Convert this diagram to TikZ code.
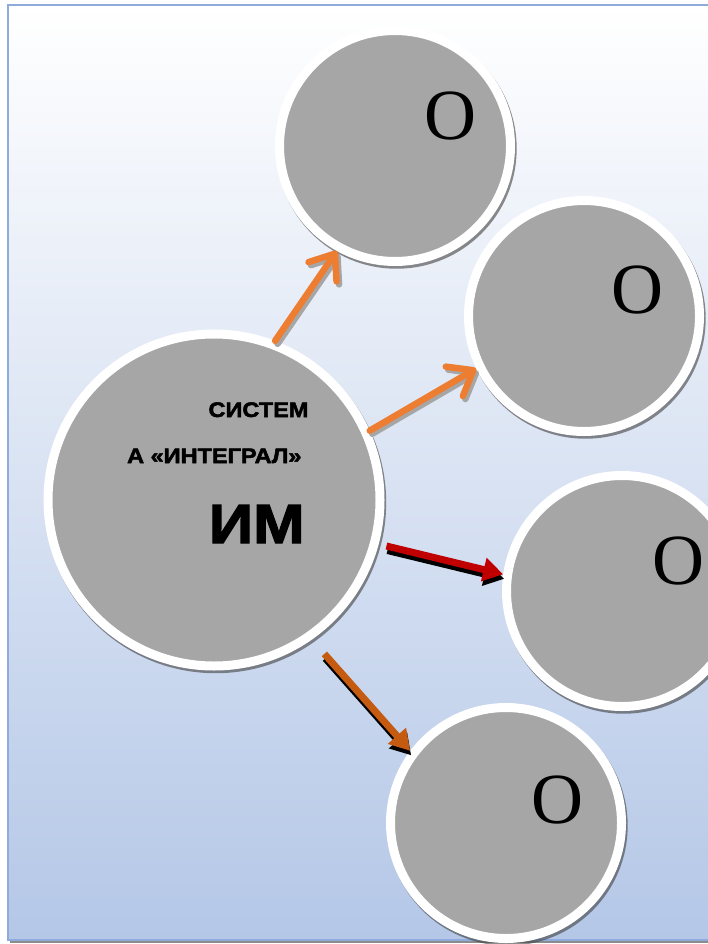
\documentclass[tikz,border=0pt]{standalone}
\usepackage{fontspec}
\setmainfont{Liberation Serif}
\newfontfamily\labelfont{Liberation Sans}[BoldFeatures={FakeBold=2.5,FakeStretch=1.12}]
\usetikzlibrary{arrows.meta,shadows}
\definecolor{bgblue}{HTML}{B4C7E7}
\definecolor{framecol}{HTML}{8FAADC}
\definecolor{blobgray}{HTML}{A6A6A6}
\definecolor{arrorange}{HTML}{ED7D31}
\definecolor{arrred}{HTML}{C00000}
\definecolor{arrbrown}{HTML}{C55A11}
\tikzset{
    every node/.style={font=\labelfont\bfseries},
    small node/.style={circle,draw=white,fill=blobgray,line width=9pt,minimum size=231pt,
        drop shadow={shadow scale=1.04,shadow xshift=1.5pt,shadow yshift=-2.5pt,fill=black!75,opacity=0.6}},
    main node/.style={circle,draw=white,fill=blobgray,line width=9pt,minimum size=332pt,
        drop shadow={shadow scale=1.028,shadow xshift=1.5pt,shadow yshift=-2.5pt,fill=black!75,opacity=0.6}},
    o node/.style={font=\rmfamily\fontsize{72}{72}\selectfont},
    open arrow/.style={-{Straight Barb[length=22pt,width=34pt,round]},line width=6.5pt,line cap=round},
    full arrow/.style={-{Triangle[length=20pt,width=23pt]},line width=7pt},
    grey shade/.style={black!35,transform canvas={shift={(2.5pt,-3pt)}}},
    black shade/.style={black,transform canvas={shift={(1pt,-4.5pt)}}}
}

\begin{document}
\begin{tikzpicture}[x=1pt,y=-1pt]
    \useasboundingbox (0,0) rectangle (707,944);

    % background sheet
    \fill[black!45] (10,940) rectangle (760,943);
    \shade[top color=white,bottom color=bgblue] (8,5) rectangle (760,940);
    \draw[framecol,line width=2.5pt] (760,5) -- (8,5) -- (8,940) -- (760,940);

    % circles
    \node[main node] (main) at (214,500) {};
    \node[small node] (c1) at (395,146) {};
    \node[small node] (c2) at (584,316) {};
    \node[small node] (c3) at (622,591) {};
    \node[small node] (c4) at (506,823) {};

    % texts
    \node[anchor=base east,font=\labelfont\bfseries\fontsize{21}{21}\selectfont] (t1) at (312,417) {СИСТЕМ};
    \node[anchor=base east,font=\labelfont\bfseries\fontsize{21}{21}\selectfont] (t2) at (305,463) {А «ИНТЕГРАЛ»};
    \node[anchor=base east,font=\labelfont\bfseries\fontsize{55}{55}\selectfont] (t3) at (308,543) {ИМ};
    \node[o node] (o1) at (450,116) {O};
    \node[o node] (o2) at (637,290) {O};
    \node[o node] (o3) at (678,561) {O};
    \node[o node] (o4) at (557,800) {O};

    % arrows
    \draw[open arrow,grey shade] (main.69) -- (c1.241);
    \draw[open arrow,arrorange] (main.69) -- (c1.241);
    \draw[open arrow,grey shade] (main.24) -- (c2.206);
    \draw[open arrow,arrorange] (main.24) -- (c2.206);
    \draw[full arrow,black shade,shorten <=8pt] (main.-15.6) -- (c3.172);
    \draw[full arrow,arrred,shorten <=8pt] (main.-15.6) -- (c3.172);
    \draw[full arrow,black shade,shorten <=19pt] (main.-55) -- (c4.143);
    \draw[full arrow,arrbrown,shorten <=19pt] (main.-55) -- (c4.143);
\end{tikzpicture}
\end{document}
